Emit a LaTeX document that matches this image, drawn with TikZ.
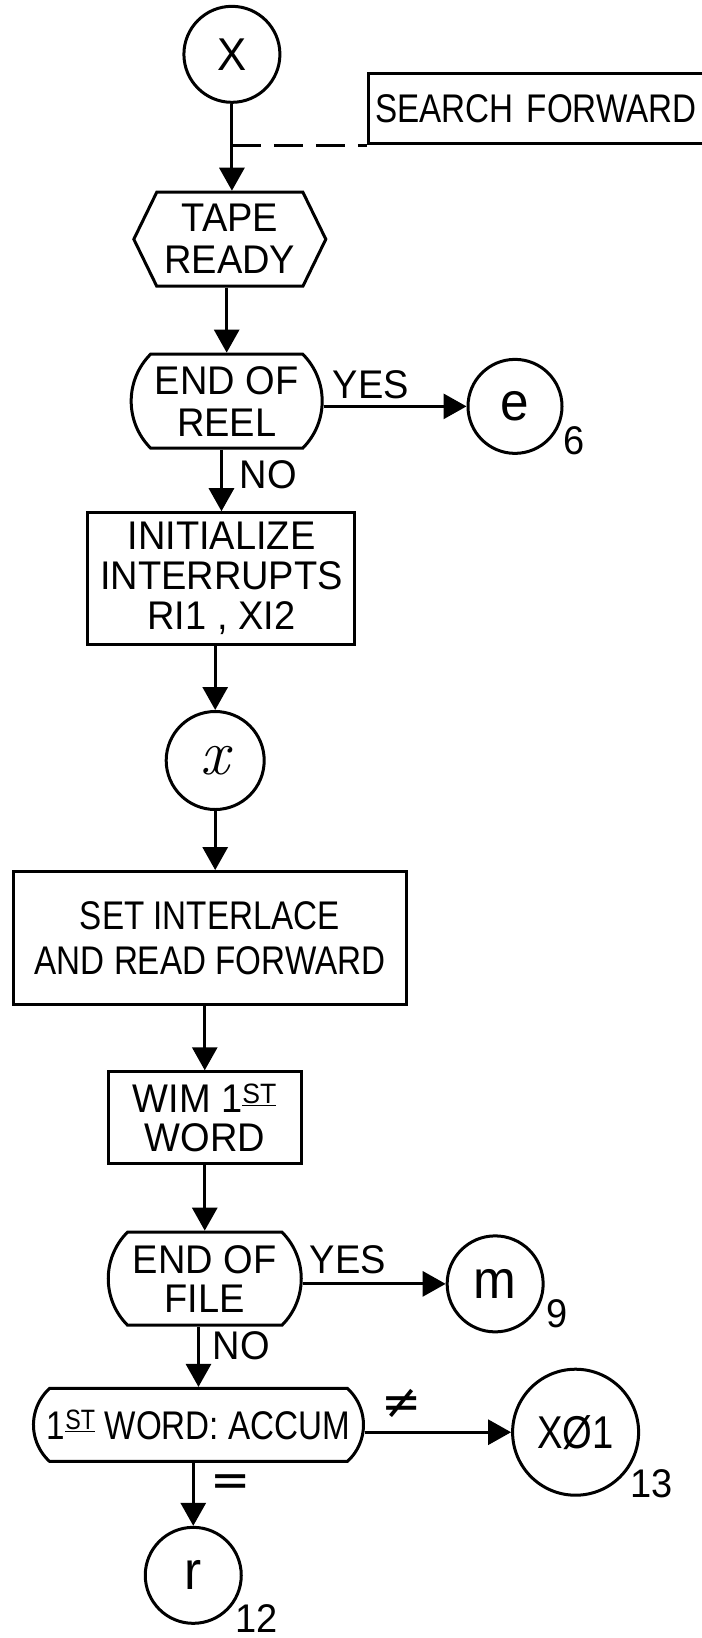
\documentclass[tikz,border=0pt]{standalone}
\usepackage{fontspec}
\newfontfamily\hand{Liberation Sans}[FakeStretch=0.95]
\newfontfamily\handn{Liberation Sans}[FakeStretch=0.83]
\newfontfamily\symf{DejaVu Sans}
\usetikzlibrary{arrows.meta,shapes.geometric,shapes.misc,shapes.symbols,calc}
\begin{document}
\begin{tikzpicture}[x=1.0446pt,y=-1.0446pt,
  every node/.style={font=\hand\fontsize{40}{42}\selectfont, line width=3pt, align=center},
  conn/.style={circle, draw, minimum size=#1, inner sep=0pt},
  box/.style={draw, rectangle, inner sep=0pt},
  hexa/.style={draw, signal, signal to=west and east, signal pointer angle=128, inner sep=0pt},
  decis/.style={draw, rounded rectangle, rounded rectangle arc length=#1, inner sep=0pt},
  lbl/.style={draw=none, inner sep=0pt},
  arr/.style={line width=3pt, -{Triangle[length=23pt,width=25pt]}},
  dash line/.style={line width=3pt, dash pattern=on 29pt off 13pt},
  ]
\useasboundingbox (0,0) rectangle (672,1568);

% nodes
\node[conn=96pt, font=\hand\fontsize{46}{46}\selectfont] (X) at (222,52) {X};
\node[box, anchor=north west, minimum height=70pt, text width=360pt, align=left, inner xsep=7pt, font=\handn\fontsize{40}{42}\selectfont] (search) at (351,69) {SEARCH FORWARD};
\coordinate (j) at (X.south |- search.south);

\node[hexa, minimum width=192pt, minimum height=94pt] (tape) at (220,229) {TAPE\\READY};

\node[decis=90, minimum width=191pt, minimum height=94pt] (reel) at (217,384) {END OF\\REEL};
\node[conn=94pt, font=\hand\fontsize{54}{54}\selectfont] (e) at (493,389) {e};
\node[lbl] (n6) at (550,422) {6};
\node[lbl] (yes1) at (355,368) {YES};
\node[lbl] (no1) at (257,454) {NO};

\node[box, minimum width=267pt, minimum height=132pt, font=\hand\fontsize{40}{40}\selectfont] (init) at (212,554) {INITIALIZE\\INTERRUPTS\\RI1 , XI2};

\node[conn=98pt] (xc) at (206,728) {\rmfamily\itshape\fontsize{64}{64}\selectfont x};

\node[box, minimum width=393pt, minimum height=133pt, font=\handn\fontsize{40}{45}\selectfont] (set) at (201,898) {SET INTERLACE\\AND READ FORWARD};

\node[box, minimum width=193pt, minimum height=92pt, font=\hand\fontsize{40}{39}\selectfont] (wim) at (196,1070) {WIM 1\textsuperscript{\underline{ST}}\\WORD};

\node[decis=90, minimum width=193pt, minimum height=93pt, font=\hand\fontsize{40}{39}\selectfont] (file) at (196,1224) {END OF\\FILE};
\node[conn=96pt, font=\hand\fontsize{54}{54}\selectfont] (m) at (474,1229) {m};
\node[lbl] (n9) at (533,1258) {9};
\node[lbl] (yes2) at (333,1206) {YES};
\node[lbl] (no2) at (231,1288) {NO};

\node[decis=95, minimum width=330pt, minimum height=73pt, font=\handn\fontsize{40}{40}\selectfont] (accum) at (190,1364) {1\textsuperscript{\underline{ST}} WORD: ACCUM};
\node[conn=126pt, font=\handn\fontsize{46}{46}\selectfont] (xo) at (551,1371) {XØ1};
\node[lbl, font=\symf\fontsize{48}{48}\selectfont] (ne) at (384,1344) {≠};
\node[lbl] (n13) at (624,1420) {13};

\node[conn=96pt, font=\hand\fontsize{54}{54}\selectfont] (r) at (185,1508) {r};
\node[lbl, font=\symf\fontsize{48}{48}\selectfont] (eq) at (221,1422) {=};
\node[lbl] (n12) at (246,1549) {12};

% connectors
\draw[arr] (X.south) -- (X.south |- tape.north);
\draw[dash line] (j) -- (search.south west);
\draw[arr] (reel.north |- tape.south) -- (reel.north);
\draw[arr] (e.west -| reel.east) -- (e.west);
\draw[arr] (init.north |- reel.south) -- (init.north);
\draw[arr] (xc.north |- init.south) -- (xc.north);
\draw[arr] (xc.south) -- (xc.south |- set.north);
\draw[arr] (wim.north |- set.south) -- (wim.north);
\draw[arr] (wim.south) -- (wim.south |- file.north);
\draw[arr] (m.west -| file.east) -- (m.west);
\draw[arr] (accum.north |- file.south) -- (accum.north);
\draw[arr] (xo.west -| accum.east) -- (xo.west);
\draw[arr] (accum.south -| r) -- (r.north);
\end{tikzpicture}
\end{document}
